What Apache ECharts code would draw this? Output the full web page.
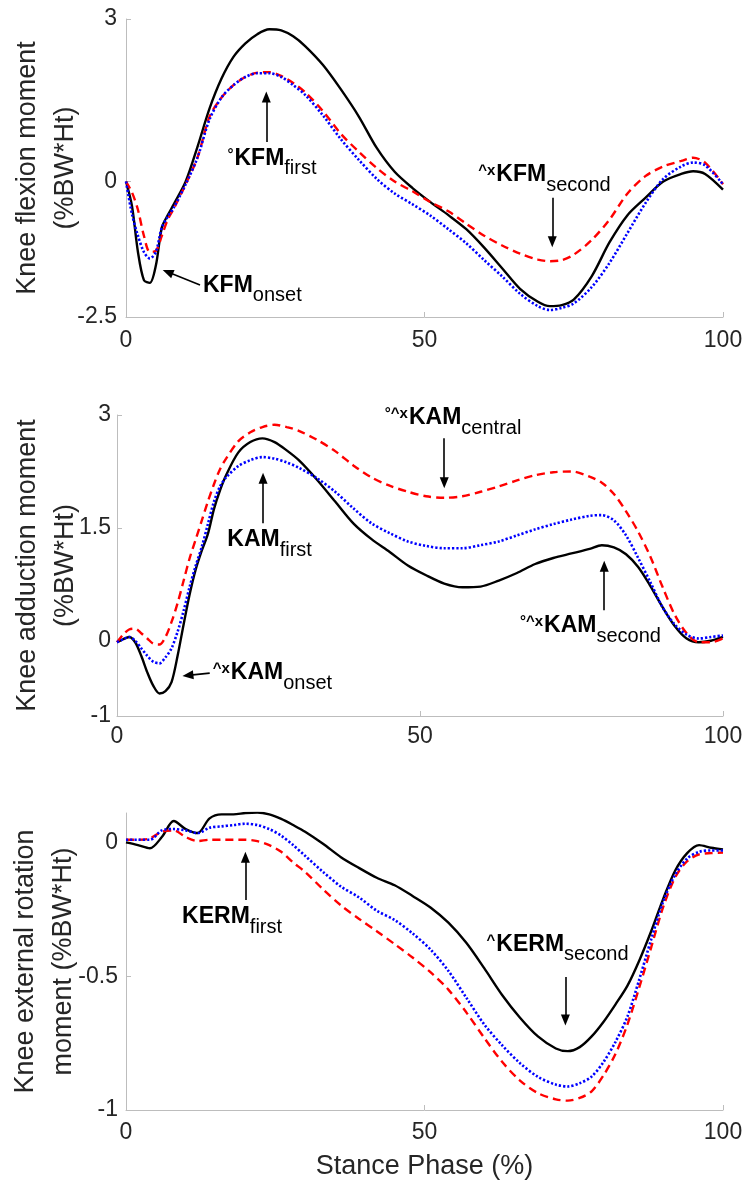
<!DOCTYPE html>
<html>
<head>
<meta charset="utf-8">
<script src="https://cdn.jsdelivr.net/npm/echarts@6/dist/echarts.min.js"></script>
<style>
html, body { margin: 0; padding: 0; background: #ffffff; }
#chart { width: 747px; height: 1182px; }
</style>
</head>
<body>
<div id="chart"></div>
<script>
// Stance phase (%) sample points for each panel
const kfmStance = [0,1,2,3,4,5,6,7,8,10,12,14,16,18,20,22,24,26,28,30,33,36,39,42,45,48,51,54,57,60,63,66,69,71,73,75,78,81,84,87,90,93,95,97,100];
const kamStance = [0,1,2,3,4,5,6,7,8,9,10,11,12,13,14,15,16,17,18,20,22,24,26,28,30,33,36,39,42,45,48,51,54,57,60,63,66,69,72,75,78,80,82,84,86,88,90,92,94,96,98,100];
const kermStance = [0,2,4,6,8,10,12,14,16,18,20,22,24,26,28,30,33,36,39,42,45,48,51,54,57,60,63,66,69,72,74,76,78,80,82,84,86,88,90,92,94,96,98,100];

// Knee flexion moment (%BW*Ht)
const kfmBlack = [0,-0.45,-1.3,-1.82,-1.87,-1.55,-0.85,-0.62,-0.42,0.0,0.65,1.35,1.9,2.3,2.55,2.72,2.81,2.79,2.68,2.5,2.15,1.7,1.2,0.62,0.18,-0.12,-0.38,-0.62,-0.88,-1.22,-1.6,-1.98,-2.22,-2.3,-2.28,-2.18,-1.75,-1.12,-0.62,-0.3,0.0,0.14,0.19,0.14,-0.15];
const kfmRed = [0,-0.2,-0.52,-1.0,-1.3,-1.28,-1.0,-0.7,-0.5,-0.05,0.45,1.2,1.55,1.78,1.93,2.01,2.02,1.95,1.82,1.65,1.3,0.88,0.55,0.25,0.0,-0.18,-0.38,-0.55,-0.78,-1.0,-1.18,-1.33,-1.44,-1.47,-1.45,-1.35,-1.08,-0.7,-0.22,0.1,0.28,0.38,0.44,0.35,-0.05];
const kfmBlue = [0,-0.6,-1.0,-1.3,-1.42,-1.3,-0.85,-0.65,-0.48,-0.05,0.45,1.15,1.55,1.78,1.93,2.0,2.0,1.93,1.78,1.6,1.22,0.78,0.4,0.05,-0.22,-0.42,-0.63,-0.88,-1.14,-1.45,-1.75,-2.07,-2.3,-2.37,-2.33,-2.25,-1.95,-1.5,-0.95,-0.4,0.05,0.28,0.35,0.3,-0.05];

// Knee adduction moment (%BW*Ht)
const kamBlack = [-0.02,0.02,0.05,-0.02,-0.2,-0.42,-0.6,-0.7,-0.67,-0.55,-0.2,0.22,0.62,0.95,1.2,1.42,1.75,2.0,2.2,2.5,2.64,2.69,2.64,2.53,2.4,2.14,1.85,1.56,1.35,1.18,1.0,0.87,0.76,0.71,0.72,0.8,0.9,1.02,1.1,1.16,1.22,1.27,1.24,1.15,0.98,0.73,0.45,0.2,0.03,-0.02,0.0,0.05];
const kamRed = [-0.02,0.08,0.15,0.16,0.1,0.03,-0.04,-0.05,0.05,0.25,0.5,0.8,1.1,1.35,1.6,1.85,2.08,2.28,2.42,2.65,2.77,2.84,2.87,2.84,2.79,2.67,2.52,2.33,2.17,2.06,1.98,1.92,1.9,1.92,1.98,2.05,2.13,2.2,2.24,2.25,2.18,2.1,1.95,1.72,1.45,1.12,0.72,0.35,0.1,-0.02,-0.02,0.03];
const kamBlue = [-0.02,0.02,0.05,0.0,-0.1,-0.2,-0.28,-0.3,-0.22,-0.1,0.12,0.4,0.72,1.0,1.25,1.55,1.85,2.05,2.17,2.32,2.4,2.44,2.42,2.37,2.3,2.16,1.98,1.76,1.56,1.43,1.32,1.26,1.23,1.23,1.27,1.32,1.4,1.48,1.55,1.61,1.66,1.67,1.6,1.4,1.1,0.78,0.45,0.22,0.08,0.03,0.05,0.07];

// Knee external rotation moment (%BW*Ht)
const kermBlack = [0,-0.01,-0.022,0.02,0.08,0.05,0.035,0.09,0.105,0.105,0.11,0.112,0.105,0.088,0.065,0.04,-0.005,-0.055,-0.095,-0.132,-0.16,-0.2,-0.243,-0.3,-0.375,-0.47,-0.57,-0.655,-0.725,-0.77,-0.78,-0.765,-0.725,-0.67,-0.605,-0.535,-0.44,-0.33,-0.21,-0.105,-0.04,-0.01,-0.02,-0.026];
const kermRed = [0.01,0.01,0.015,0.04,0.045,0.02,0.005,0.01,0.01,0.01,0.01,0.005,-0.01,-0.035,-0.075,-0.11,-0.175,-0.235,-0.285,-0.332,-0.38,-0.43,-0.485,-0.55,-0.635,-0.73,-0.82,-0.89,-0.937,-0.96,-0.965,-0.955,-0.93,-0.87,-0.79,-0.68,-0.54,-0.39,-0.24,-0.13,-0.07,-0.045,-0.04,-0.038];
const kermBlue = [0.01,0.01,0.01,0.045,0.05,0.045,0.035,0.055,0.06,0.065,0.07,0.065,0.05,0.025,-0.01,-0.05,-0.11,-0.165,-0.205,-0.255,-0.29,-0.34,-0.4,-0.48,-0.58,-0.68,-0.758,-0.825,-0.876,-0.905,-0.912,-0.9,-0.875,-0.82,-0.745,-0.65,-0.51,-0.36,-0.22,-0.12,-0.06,-0.035,-0.03,-0.03];

// Tick labels
const xTicks = [0, 50, 100];
const kfmTicks = [-2.5, 0, 3];
const kamTicks = [-1, 0, 1.5, 3];
const kermTicks = [-1, -0.5, 0];

// Axis titles
const yTitles = ['Knee flexion moment\n(%BW*Ht)', 'Knee adduction moment\n(%BW*Ht)', 'Knee external rotation\nmoment (%BW*Ht)'];
const xTitle = 'Stance Phase (%)';

// Annotation text and arrow placement (data coordinates of each panel)
const notes = [
  { g: 0, sup: '°', main: 'KFM', sub: 'first', at: [17.0, 0.40] },
  { g: 0, sup: '', main: 'KFM', sub: 'onset', at: [12.9, -1.94] },
  { g: 0, sup: '^x', main: 'KFM', sub: 'second', at: [59.0, 0.10] },
  { g: 1, sup: '°^x', main: 'KAM', sub: 'central', at: [44.2, 2.94] },
  { g: 1, sup: '', main: 'KAM', sub: 'first', at: [18.2, 1.32] },
  { g: 1, sup: '°^x', main: 'KAM', sub: 'second', at: [66.5, 0.18] },
  { g: 1, sup: '^x', main: 'KAM', sub: 'onset', at: [15.8, -0.445] },
  { g: 2, sup: '', main: 'KERM', sub: 'first', at: [9.4, -0.283] },
  { g: 2, sup: '^', main: 'KERM', sub: 'second', at: [60.4, -0.387] }
];
const arrows = [
  { g: 0, from: [23.5, 0.73], to: [23.5, 1.56] },
  { g: 0, from: [12.4, -1.91], to: [7.0, -1.67] },
  { g: 0, from: [71.4, -0.30], to: [71.4, -1.11] },
  { g: 1, from: [54.0, 2.69], to: [54.0, 2.10] },
  { g: 1, from: [24.1, 1.56], to: [24.1, 2.16] },
  { g: 1, from: [80.4, 0.405], to: [80.4, 0.99] },
  { g: 1, from: [15.3, -0.43], to: [11.7, -0.46] },
  { g: 2, from: [20.0, -0.215], to: [20.0, -0.055] },
  { g: 2, from: [73.6, -0.503], to: [73.6, -0.664] }
];

const FONT = '"Liberation Sans", Arial, Helvetica, sans-serif';
const AXIS_GRAY = '#bdbdbd';
const TEXT_GRAY = '#262626';

const pair = (xs, ys) => xs.map((x, i) => [x, ys[i]]);

const grids = [
  { left: 126, right: 24, top: 19, height: 298, outerBoundsMode: 'none', containLabel: false },
  { left: 117, right: 24, top: 415, height: 301, outerBoundsMode: 'none', containLabel: false },
  { left: 126, right: 24, top: 813, height: 297, outerBoundsMode: 'none', containLabel: false }
];

function xAxisFor(i, withTitle, labelMargin) {
  return {
    type: 'value', gridIndex: i, min: 0, max: 100, interval: 50,
    axisLine: { show: true, onZero: false, lineStyle: { color: AXIS_GRAY, width: 1 } },
    axisTick: { show: true, inside: true, length: 5, lineStyle: { color: AXIS_GRAY } },
    axisLabel: { color: TEXT_GRAY, fontSize: 23, fontFamily: FONT, margin: labelMargin,
                 customValues: xTicks },
    splitLine: { show: false },
    name: withTitle ? xTitle : '',
    nameLocation: 'middle', nameGap: 43, nameMoveOverlap: false,
    nameTextStyle: { color: TEXT_GRAY, fontSize: 27, fontFamily: FONT }
  };
}

function yAxisFor(i, min, max, ticks, title, gap, labelMargin) {
  return {
    type: 'value', gridIndex: i, min: min, max: max,
    axisLine: { show: true, onZero: false, lineStyle: { color: AXIS_GRAY, width: 1 } },
    axisTick: { show: true, inside: true, length: 5, lineStyle: { color: AXIS_GRAY },
                customValues: ticks },
    axisLabel: { color: TEXT_GRAY, fontSize: 23, fontFamily: FONT, margin: labelMargin,
                 customValues: ticks },
    splitLine: { show: false },
    name: title, nameLocation: 'middle', nameGap: gap, nameMoveOverlap: false,
    nameTextStyle: { color: TEXT_GRAY, fontSize: 27, lineHeight: 38, fontFamily: FONT }
  };
}

function arrowLines(g) {
  return {
    silent: true, animation: false,
    symbol: ['none', 'triangle'], symbolSize: [9, 11],
    lineStyle: { color: '#000000', width: 1.6, type: 'solid' },
    label: { show: false },
    data: arrows.filter(a => a.g === g).map(a => [
      { coord: a.from }, { coord: a.to }
    ])
  };
}

function lineSeries(g, xs, ys, kind) {
  const styles = {
    black: { color: '#000000', width: 2.4, type: 'solid' },
    red: { color: '#ff0000', width: 2.4, type: [8, 5] },
    blue: { color: '#0000ff', width: 2.6, type: [2.2, 2] }
  };
  const s = {
    type: 'line', xAxisIndex: g, yAxisIndex: g,
    data: pair(xs, ys), showSymbol: false, smooth: 0.3,
    lineStyle: Object.assign({ cap: 'butt' }, styles[kind]),
    itemStyle: { color: styles[kind].color },
    z: kind === 'black' ? 3 : (kind === 'red' ? 4 : 5),
    animation: false
  };
  if (kind === 'black') s.markLine = arrowLines(g);
  return s;
}

const chart = echarts.init(document.getElementById('chart'), null, { renderer: 'canvas' });

chart.setOption({
  backgroundColor: '#ffffff',
  animation: false,
  grid: grids,
  xAxis: [xAxisFor(0, false, 12), xAxisFor(1, false, 9), xAxisFor(2, true, 11)],
  yAxis: [
    yAxisFor(0, -2.5, 3, kfmTicks, yTitles[0], 41, 9),
    yAxisFor(1, -1, 3, kamTicks, yTitles[1], 32, 6),
    yAxisFor(2, -1, 0.11, kermTicks, yTitles[2], 43, 8)
  ],
  series: [
    lineSeries(0, kfmStance, kfmBlack, 'black'),
    lineSeries(0, kfmStance, kfmRed, 'red'),
    lineSeries(0, kfmStance, kfmBlue, 'blue'),
    lineSeries(1, kamStance, kamBlack, 'black'),
    lineSeries(1, kamStance, kamRed, 'red'),
    lineSeries(1, kamStance, kamBlue, 'blue'),
    lineSeries(2, kermStance, kermBlack, 'black'),
    lineSeries(2, kermStance, kermRed, 'red'),
    lineSeries(2, kermStance, kermBlue, 'blue')
  ]
});

// Peak annotations: bold moment name, small superscript markers, subscript qualifier
const rich = {
  sup: { fontSize: 15, fontWeight: 'bold', lineHeight: 15, verticalAlign: 'top', fontFamily: FONT, color: '#000', padding: [0, 1, 0, 0] },
  main: { fontSize: 23, fontWeight: 'bold', lineHeight: 26, verticalAlign: 'top', fontFamily: FONT, color: '#000' },
  sub: { fontSize: 20, lineHeight: 20, verticalAlign: 'top', fontFamily: FONT, color: '#000', padding: [12, 0, 0, 0] }
};

const graphics = notes.map(n => {
  const p = chart.convertToPixel({ gridIndex: n.g }, n.at);
  const text = (n.sup ? '{sup|' + n.sup + '}' : '') + '{main|' + n.main + '}{sub|' + n.sub + '}';
  return {
    type: 'text', x: p[0], y: p[1] - 13, silent: true, z: 10,
    style: { text: text, rich: rich, align: 'left', verticalAlign: 'top', fontFamily: FONT }
  };
});

chart.setOption({ graphic: graphics });
</script>
</body>
</html>
